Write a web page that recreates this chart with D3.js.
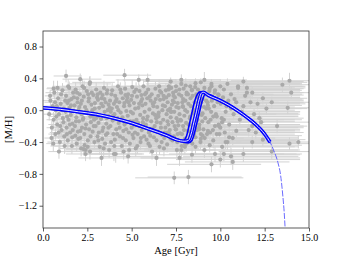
<!DOCTYPE html>
<html>
<head>
<meta charset="utf-8">
<script src="https://cdn.jsdelivr.net/npm/d3@7"></script>
<style>
  body { margin: 0; background: #fff; }
  text { font-family: "Liberation Serif", "DejaVu Serif", serif; }
</style>
</head>
<body>
<svg id="chart"></svg>
<script>
// dense cloud of stars: [age, [M/H], age error, [M/H] error]
var cloudStars = [
  [0.35,-0.05,.3,.08],[0.42,0.12,.4,.07],[0.5,-0.22,.3,.09],[0.55,0.05,.5,.06],[0.6,-0.12,.4,.1],[0.64,0.22,.5,.08],[0.7,-0.3,.4,.07],[0.72,0.0,.3,.06],[0.48,-0.35,.4,.1],[0.68,0.1,.6,.07],
  [0.8,-0.18,.5,.07],[0.85,0.15,.6,.08],[0.9,-0.05,.4,.06],[0.95,-0.4,.7,.1],[1.0,0.08,.5,.07],[1.05,-0.25,.6,.08],[1.1,0.25,.7,.09],[1.12,-0.1,.5,.06],[1.18,0.02,.6,.07],[1.2,-0.33,.8,.09],[0.88,-0.28,.5,.08],[1.02,0.2,.6,.07],[1.15,-0.15,.5,.06],[0.78,0.05,.4,.07],
  [1.28,-0.02,.6,.07],[1.3,0.18,.8,.08],[1.33,-0.22,.7,.09],[1.38,0.09,.6,.06],[1.4,-0.38,.9,.1],[1.44,-0.12,.7,.07],[1.48,0.28,.9,.08],[1.5,0.03,.6,.06],[1.53,-0.28,.8,.09],[1.57,-0.06,.7,.07],[1.6,0.14,.8,.07],[1.63,-0.45,1,.1],[1.66,-0.17,.7,.08],[1.7,0.22,.9,.08],[1.72,-0.01,.6,.06],[1.35,-0.3,.8,.08],[1.46,0.12,.7,.07],[1.68,-0.25,.8,.08],
  [1.78,0.06,.8,.07],[1.8,-0.2,.9,.08],[1.84,0.26,1,.09],[1.88,-0.09,.8,.07],[1.9,-0.42,1.1,.1],[1.93,0.15,.9,.07],[1.97,-0.27,1,.08],[2.0,0.0,.8,.06],[2.03,-0.14,.9,.07],[2.07,0.2,1,.08],[2.1,-0.35,1.1,.09],[2.13,0.08,.9,.07],[2.17,-0.05,.8,.06],[2.2,-0.22,1,.08],[2.23,0.3,1.1,.09],[1.82,-0.32,1,.09],[1.95,0.1,.9,.07],[2.15,-0.48,1.2,.1],
  [2.27,-0.1,.9,.07],[2.3,0.17,1,.08],[2.33,-0.3,1.1,.09],[2.37,0.04,.9,.06],[2.4,-0.5,1.2,.1],[2.43,-0.18,1,.08],[2.47,0.24,1.1,.08],[2.5,-0.03,.9,.06],[2.53,-0.38,1.2,.09],[2.57,0.11,1,.07],[2.6,-0.24,1.1,.08],[2.63,0.33,1.2,.09],[2.67,-0.08,.9,.07],[2.7,-0.15,1,.07],[2.73,0.07,1,.07],[2.35,-0.44,1.2,.1],[2.55,0.2,1.1,.08],[2.65,-0.52,1.3,.1],
  [2.78,0.0,1,.07],[2.8,-0.27,1.1,.08],[2.84,0.19,1.2,.08],[2.88,-0.12,1,.07],[2.9,-0.4,1.3,.1],[2.93,0.09,1.1,.07],[2.97,-0.2,1.2,.08],[3.0,0.26,1.3,.09],[3.03,-0.05,1,.06],[3.07,-0.33,1.2,.09],[3.1,0.13,1.1,.07],[3.13,-0.16,1.1,.07],[3.17,0.03,1,.06],[3.2,-0.46,1.3,.1],[3.23,0.22,1.2,.08],[2.82,-0.08,1,.07],[3.05,0.16,1.1,.07],[3.15,-0.28,1.2,.08],
  [3.27,-0.11,1.1,.07],[3.3,0.15,1.2,.08],[3.34,-0.36,1.3,.09],[3.38,0.05,1.1,.06],[3.4,-0.22,1.2,.08],[3.44,0.28,1.3,.09],[3.48,-0.02,1.1,.06],[3.5,-0.42,1.4,.1],[3.53,0.1,1.2,.07],[3.57,-0.17,1.2,.07],[3.6,0.21,1.3,.08],[3.63,-0.29,1.3,.08],[3.67,-0.07,1.1,.06],[3.7,0.07,1.2,.07],[3.73,-0.5,1.5,.1],[3.36,0.19,1.2,.08],[3.55,-0.31,1.3,.09],[3.65,0.0,1.1,.07],
  [3.78,0.12,1.2,.07],[3.8,-0.2,1.3,.08],[3.84,-0.4,1.4,.1],[3.88,0.02,1.2,.06],[3.9,0.25,1.4,.09],[3.93,-0.13,1.3,.07],[3.97,-0.3,1.4,.09],[4.0,0.08,1.2,.07],[4.03,-0.05,1.2,.06],[4.07,0.18,1.3,.08],[4.1,-0.55,1.6,.11],[4.13,-0.24,1.3,.08],[4.17,0.04,1.2,.06],[4.2,-0.1,1.3,.07],[4.23,0.3,1.4,.09],[3.82,-0.02,1.2,.07],[4.05,-0.37,1.4,.09],[4.15,0.14,1.3,.07],
  [4.27,-0.16,1.3,.07],[4.3,0.1,1.3,.07],[4.34,-0.33,1.4,.09],[4.38,-0.03,1.3,.06],[4.4,0.22,1.4,.08],[4.44,-0.45,1.5,.1],[4.48,-0.09,1.3,.07],[4.5,0.15,1.4,.07],[4.53,-0.26,1.4,.08],[4.57,0.05,1.3,.06],[4.6,-0.18,1.4,.07],[4.63,0.27,1.5,.09],[4.67,-0.38,1.5,.09],[4.7,-0.01,1.3,.06],[4.73,0.12,1.4,.07],[4.32,-0.22,1.4,.08],[4.55,-0.52,1.6,.1],[4.65,0.19,1.4,.08],
  [4.78,-0.07,1.4,.07],[4.8,0.2,1.5,.08],[4.84,-0.28,1.5,.08],[4.88,0.06,1.4,.06],[4.9,-0.42,1.6,.1],[4.93,-0.14,1.4,.07],[4.97,0.13,1.5,.07],[5.0,-0.22,1.5,.08],[5.03,0.29,1.6,.09],[5.07,-0.04,1.4,.06],[5.1,-0.35,1.6,.09],[5.13,0.09,1.5,.07],[5.17,-0.19,1.5,.07],[5.2,0.02,1.4,.06],[5.23,-0.48,1.7,.1],[4.82,0.1,1.5,.07],[5.05,-0.31,1.6,.09],[5.15,0.23,1.5,.08],
  [5.27,-0.12,1.5,.07],[5.3,0.17,1.6,.08],[5.34,-0.3,1.6,.09],[5.38,0.03,1.5,.06],[5.4,-0.2,1.6,.08],[5.44,0.24,1.7,.08],[5.48,-0.06,1.5,.06],[5.5,-0.4,1.7,.1],[5.53,0.11,1.6,.07],[5.57,-0.25,1.6,.08],[5.6,0.06,1.5,.06],[5.63,-0.15,1.6,.07],[5.67,0.3,1.7,.09],[5.7,-0.33,1.7,.09],[5.73,-0.02,1.5,.06],[5.32,-0.45,1.7,.1],[5.55,0.19,1.6,.08],[5.65,-0.1,1.6,.07],
  [5.78,0.08,1.6,.07],[5.8,-0.18,1.7,.08],[5.84,-0.37,1.7,.09],[5.88,0.15,1.6,.07],[5.9,-0.08,1.6,.06],[5.93,0.26,1.7,.09],[5.97,-0.28,1.7,.08],[6.0,0.01,1.6,.06],[6.03,-0.45,1.8,.1],[6.07,0.12,1.6,.07],[6.1,-0.14,1.7,.07],[6.13,0.2,1.7,.08],[6.17,-0.23,1.7,.08],[6.2,-0.04,1.6,.06],[6.23,0.05,1.6,.07],[5.82,0.22,1.7,.08],[6.05,-0.32,1.8,.09],[6.15,-0.52,1.8,.1],
  [6.27,0.1,1.7,.07],[6.3,-0.2,1.7,.08],[6.34,0.27,1.8,.09],[6.38,-0.1,1.7,.07],[6.4,-0.38,1.8,.09],[6.44,0.04,1.7,.06],[6.48,-0.27,1.8,.08],[6.5,0.18,1.8,.08],[6.53,-0.03,1.7,.06],[6.57,-0.46,1.9,.1],[6.6,0.13,1.7,.07],[6.63,-0.16,1.8,.07],[6.67,0.22,1.8,.08],[6.7,-0.31,1.8,.09],[6.73,0.0,1.7,.06],[6.32,-0.06,1.7,.07],[6.55,0.3,1.9,.09],[6.65,-0.22,1.8,.08],
  [6.78,-0.12,1.8,.07],[6.8,0.14,1.8,.07],[6.84,-0.35,1.9,.09],[6.88,0.05,1.8,.06],[6.9,-0.22,1.8,.08],[6.93,0.25,1.9,.09],[6.97,-0.05,1.8,.06],[7.0,-0.43,2,.1],[7.03,0.1,1.8,.07],[7.07,-0.18,1.9,.07],[7.1,0.19,1.9,.08],[7.13,-0.3,1.9,.08],[7.17,0.02,1.8,.06],[7.2,-0.09,1.8,.07],[7.23,0.28,2,.09],[6.82,-0.48,2,.1],[7.05,0.0,1.8,.06],[7.15,-0.25,1.9,.08],
  [7.27,0.07,1.9,.07],[7.3,-0.15,1.9,.07],[7.34,0.22,2,.08],[7.38,-0.33,2,.09],[7.4,-0.02,1.9,.06],[7.44,0.16,1.9,.07],[7.48,-0.24,2,.08],[7.5,0.3,2.1,.09],[7.53,-0.1,1.9,.07],[7.57,-0.4,2.1,.1],[7.6,0.09,1.9,.07],[7.63,-0.19,2,.08],[7.67,0.2,2,.08],[7.7,-0.05,1.9,.06],[7.73,-0.29,2,.08],[7.32,0.12,1.9,.07],[7.55,-0.5,2.2,.1],[7.65,0.03,1.9,.06],
  [7.78,-0.13,2,.07],[7.8,0.18,2,.08],[7.84,-0.3,2.1,.09],[7.88,0.05,2,.06],[7.9,-0.2,2,.08],[7.93,0.27,2.1,.09],[7.97,-0.07,2,.06],[8.0,-0.36,2.1,.09],[8.03,0.12,2,.07],[8.07,-0.16,2,.07],[8.1,0.22,2.1,.08],[8.13,-0.02,2,.06],[8.17,-0.26,2.1,.08],[8.2,0.08,2,.07],[7.82,-0.45,2.2,.1],[8.05,0.31,2.2,.09],
  [8.28,-0.1,2.1,.07],[8.32,0.15,2.1,.07],[8.36,-0.28,2.1,.08],[8.4,0.25,2.2,.09],[8.45,-0.04,2,.06],[8.5,-0.2,2.1,.08],[8.55,0.1,2.1,.07],[8.6,-0.34,2.2,.09],[8.65,0.2,2.1,.08],[8.7,-0.12,2.1,.07],[8.72,0.03,2,.06],[8.42,-0.42,2.2,.1],[8.58,0.29,2.2,.09],[8.68,-0.25,2.1,.08],
  [8.78,0.06,2.1,.07],[8.82,-0.18,2.1,.08],[8.86,0.22,2.2,.08],[8.9,-0.3,2.2,.09],[8.95,-0.06,2.1,.06],[9.0,0.14,2.1,.07],[9.05,-0.24,2.2,.08],[9.1,0.28,2.3,.09],[9.15,-0.1,2.1,.07],[9.2,0.02,2.1,.06],[8.88,-0.4,2.3,.1],[9.12,-0.35,2.2,.09],
  [9.28,0.1,2.2,.07],[9.32,-0.15,2.2,.07],[9.38,0.24,2.3,.08],[9.42,-0.28,2.3,.09],[9.48,-0.02,2.2,.06],[9.55,0.17,2.2,.08],[9.6,-0.38,2.3,.1],[9.65,0.05,2.2,.06],[9.7,-0.2,2.3,.08],[9.5,0.3,2.3,.09],
  [9.8,-0.08,2.3,.07],[9.88,0.2,2.3,.08],[9.95,-0.3,2.4,.09],[10.02,0.08,2.3,.07],[10.1,-0.15,2.4,.07],[10.2,0.26,2.4,.09],[10.3,-0.02,2.3,.06],[10.4,-0.4,2.5,.1],[10.45,0.12,2.3,.07]
];

// more cloud stars filling the gaps: [age, [M/H], age error, [M/H] error]
var cloudExtra = [
  [0.4,0.18,.3,.07],[0.58,-0.42,.4,.1],[0.75,-0.08,.4,.06],[0.82,0.28,.6,.09],[0.97,-0.2,.5,.07],[1.08,0.0,.5,.06],[1.22,-0.45,.8,.1],[1.25,0.12,.6,.07],
  [1.36,-0.08,.6,.06],[1.42,0.3,.9,.09],[1.52,-0.18,.7,.07],[1.58,0.06,.7,.06],[1.65,-0.34,.9,.09],[1.74,0.16,.8,.07],[1.86,-0.14,.8,.07],[1.92,0.22,.9,.08],
  [1.99,-0.36,1,.09],[2.05,0.04,.9,.06],[2.11,-0.26,1,.08],[2.19,0.12,.9,.07],[2.25,-0.12,.9,.07],[2.32,0.28,1.1,.09],[2.39,-0.23,1,.08],[2.45,0.0,.9,.06],
  [2.52,-0.46,1.2,.1],[2.59,0.15,1,.07],[2.68,-0.33,1.1,.09],[2.75,0.22,1.1,.08],[2.86,-0.2,1.1,.08],[2.92,0.02,1,.06],[2.99,-0.1,1,.07],[3.08,0.2,1.2,.08],
  [3.12,-0.38,1.3,.09],[3.21,-0.08,1.1,.07],[3.29,0.08,1.1,.07],[3.35,-0.26,1.2,.08],[3.42,-0.48,1.4,.1],[3.46,0.14,1.2,.07],[3.59,-0.1,1.2,.07],[3.62,0.25,1.3,.09],
  [3.69,-0.22,1.2,.08],[3.76,0.03,1.2,.06],[3.86,0.2,1.3,.08],[3.95,-0.07,1.2,.07],[4.02,-0.45,1.5,.1],[4.09,0.11,1.3,.07],[4.18,-0.3,1.4,.09],[4.25,0.0,1.3,.06],
  [4.36,0.26,1.4,.09],[4.42,-0.12,1.3,.07],[4.51,-0.35,1.5,.09],[4.59,0.09,1.3,.07],[4.69,-0.24,1.4,.08],[4.76,0.16,1.4,.08],[4.86,-0.5,1.6,.1],[4.95,-0.02,1.4,.06],
  [5.02,0.18,1.5,.08],[5.09,-0.14,1.5,.07],[5.19,-0.28,1.5,.08],[5.25,0.26,1.6,.09],[5.36,-0.16,1.5,.07],[5.42,0.08,1.5,.07],[5.52,-0.35,1.6,.09],[5.59,0.14,1.6,.07],
  [5.69,-0.2,1.6,.08],[5.75,0.2,1.6,.08],[5.86,-0.12,1.6,.07],[5.95,-0.42,1.8,.1],[6.02,0.17,1.6,.08],[6.09,-0.24,1.7,.08],[6.19,0.08,1.6,.07],[6.25,-0.34,1.8,.09],
  [6.36,0.14,1.7,.07],[6.42,-0.15,1.7,.07],[6.51,-0.08,1.7,.07],[6.59,0.24,1.8,.08],[6.69,-0.4,1.9,.1],[6.76,0.06,1.7,.06],[6.86,-0.28,1.8,.08],[6.95,0.16,1.8,.07],
  [7.02,-0.14,1.8,.07],[7.09,0.26,1.9,.09],[7.19,-0.36,1.9,.09],[7.25,-0.02,1.8,.06],[7.36,0.18,1.9,.08],[7.42,-0.2,1.9,.08],[7.52,0.04,1.9,.06],[7.59,-0.3,2,.09],
  [7.69,0.26,2,.09],[7.75,-0.12,1.9,.07],[7.86,0.1,2,.07],[7.95,-0.25,2,.08],[8.02,0.0,2,.06],[8.09,-0.42,2.2,.1],[8.18,0.2,2.1,.08],[8.26,-0.18,2.1,.07],
  [8.34,0.05,2,.07],[8.44,0.18,2.1,.08],[8.52,-0.3,2.2,.09],[8.62,-0.06,2.1,.07],[8.74,0.26,2.2,.08],[8.8,-0.24,2.1,.08],[8.92,0.1,2.1,.07],[8.98,-0.14,2.1,.07],
  [9.08,0.04,2.1,.06],[9.18,0.2,2.2,.08],[9.25,-0.3,2.3,.09],[9.35,0.02,2.2,.06],[9.45,-0.12,2.2,.07],[9.52,0.12,2.2,.07],[9.58,-0.25,2.3,.08],[9.68,0.22,2.3,.08],
  [9.75,-0.05,2.2,.06],[9.85,0.1,2.3,.07],[9.92,-0.2,2.3,.08],[10.0,0.3,2.4,.09],[10.08,-0.1,2.3,.07],[10.15,0.16,2.3,.07],[10.25,-0.28,2.4,.09],[10.35,0.05,2.3,.06],
  [10.5,-0.18,2.4,.08],[10.6,0.2,2.4,.08],[10.75,-0.05,2.4,.07],[10.9,0.1,2.4,.07],[11.1,-0.12,2.5,.08],[11.3,0.05,2.5,.07],[11.6,-0.25,2.6,.08],[12.1,0.08,2.7,.07],
  [11.9,-0.05,2.6,.07],[12.3,-0.15,2.7,.08],[10.7,-0.35,2.4,.09],[11.4,0.18,2.5,.08]
];

// stars with long, asymmetric age errors: [age, [M/H], lower err, upper err, [M/H] err]
var longBarStars = [
  [7.2,0.36,1.5,7.5,.05],[7.8,0.33,2,6.8,.06],[8.3,0.3,2.2,6.5,.07],[8.9,0.35,1.8,6,.05],[9.4,0.27,2,5.3,.06],
  [7.5,0.24,1.7,7,.07],[8.1,0.2,2,6.5,.06],[8.7,0.16,2.3,5.8,.07],[9.2,0.12,2,5.5,.06],[9.9,0.19,2.5,4.8,.07],
  [10.4,0.08,2.4,4.1,.06],[7.9,0.04,2.2,6.3,.06],[8.5,0.0,2,5.7,.07],[9.0,-0.04,2.4,5.4,.06],[9.6,-0.08,2.2,4.6,.07],
  [10.2,-0.12,2.6,4,.08],[7.6,-0.14,2,6.6,.07],[8.2,-0.18,2.1,6,.07],[8.8,-0.22,2.3,5.6,.08],[9.3,-0.26,2.2,4.9,.08],
  [9.8,-0.3,2.5,4.4,.08],[10.5,-0.34,2.6,3.9,.09],[7.3,-0.38,1.9,7,.09],[8.0,-0.42,2.3,6.4,.09],[8.6,-0.46,2.4,5.6,.1],
  [9.1,-0.5,2.5,5.3,.1],[9.7,-0.55,2.6,4.9,.1],[10.6,-0.58,2.7,3.8,.11],[7.7,-0.6,2.2,6.8,.1],[11.0,0.3,2.5,3.6,.07],
  [11.5,0.22,2.8,3.2,.08],[10.8,0.14,2.6,3.9,.07],[11.2,-0.02,2.7,3.3,.08],[11.8,-0.2,3,2.9,.08],[12.2,-0.1,3.2,2.5,.09],
  [8.4,0.26,2.2,6.1,.06],[9.5,0.33,2,5,.06],[7.4,0.1,1.9,7.1,.06],[8.3,-0.08,2.1,6.1,.07],[9.9,-0.18,2.4,4.6,.08],
  [7.0,-0.28,1.8,7.5,.08],[8.9,-0.36,2.4,5.5,.09],[10.1,-0.46,2.5,4.3,.09],[10.9,-0.26,2.8,3.6,.08],[6.8,0.18,1.6,7.7,.06],
  [6.5,-0.06,1.6,7.9,.07],[7.1,0.3,1.6,7.6,.06],[8.6,0.34,2,6,.06],[9.7,0.25,2.3,4.9,.07],[7.9,0.14,2,6.7,.06],
  [9.3,0.06,2.2,5.3,.07],[10.6,0.02,2.6,4,.07],[7.2,-0.02,1.8,7.3,.07],[8.7,-0.12,2.2,5.9,.07],[10.0,-0.22,2.5,4.7,.08],
  [7.5,-0.24,1.9,7,.08],[9.0,-0.32,2.3,5.6,.08],[10.3,-0.4,2.6,4.2,.09],[7.8,-0.5,2.1,6.7,.09],[9.4,-0.44,2.4,5.2,.09],
  [8.4,-0.56,2.3,6.1,.1],[10.0,-0.62,2.5,4.5,.1],[11.3,0.36,2.4,3.3,.06],[11.7,0.1,2.8,3,.07]
];

// sparse stars around the edges of the cloud: [age, [M/H], lower err, upper err, [M/H] err]
var sparseStars = [
  [1.3,0.43,.7,.9,.08],[2.1,0.39,1,1.2,.07],[2.65,0.35,1,1.4,.08],[4.6,0.44,1.2,1.5,.08],[5.4,0.38,1.3,1.7,.07],
  [5.9,0.38,1.4,1.6,.08],[0.6,0.27,.4,.6,.1],[7.8,0.38,1.8,2.2,.07],[9.1,0.38,2,2.4,.1],[10.4,0.33,2.2,3,.07],
  [11.0,0.28,2.4,3.2,.08],[11.5,0.28,2.5,3.3,.07],[11.8,0.22,2.6,2.8,.08],[12.4,0.15,2.8,2.5,.08],[12.9,0.1,3,2.1,.07],
  [13.5,0.32,3.2,1.5,.09],[13.9,0.37,3.3,1.1,.1],[14.0,0.22,3.3,1,.08],[13.8,0.03,3.2,1.2,.08],[12.9,-0.52,3,2.1,.09],
  [13.9,-0.42,3.2,1.1,.08],[14.4,-0.4,3.5,.6,.08],[11.8,-0.4,2.8,2.6,.08],[11.3,-0.55,2.8,3,.1],[10.7,-0.65,2.7,3.2,.1],
  [9.5,-0.68,2.5,2.8,.1],[10.2,-0.55,2.6,3.4,.09],[8.0,-0.46,2.2,2.6,.09],[7.4,-0.85,2.2,3.9,.08],[8.2,-0.84,2.3,3,.09],
  [12.6,0.02,3,2.3,.08],[13.2,-0.2,3.1,1.7,.09],[12.0,-0.28,2.9,2.7,.08],[2.4,-0.55,1.1,1.3,.09],[2.3,-0.49,1,1.2,.08],
  [4.0,-0.55,1.4,1.6,.09],[3.3,-0.6,1.3,1.5,.1],[4.8,-0.58,1.5,1.7,.09],[0.9,-0.52,.6,.8,.09],[6.4,-0.6,1.7,1.9,.1],
  [12.4,-0.37,2.9,2.4,.08]
];

// chemical evolution model tracks: [age, [M/H]]
var trackMid = [
  [0,0.03],[1,0.01],[2,-0.02],[3,-0.05],[4,-0.10],[5,-0.16],[6,-0.24],[7,-0.32],[7.5,-0.37],[8.0,-0.39],
  [8.2,-0.38],[8.35,-0.30],[8.5,-0.16],[8.65,-0.02],[8.8,0.13],[8.95,0.22],[9.05,0.225],[9.3,0.19],[10.0,0.12],
  [10.5,0.06],[11.0,-0.01],[11.5,-0.09],[12.0,-0.18],[12.5,-0.30],[12.8,-0.40],[13.0,-0.50],[13.25,-0.66],
  [13.4,-0.82],[13.53,-1.09],[13.6,-1.28],[13.65,-1.47]
];
var trackEarly = [
  [0,0.04],[2,-0.01],[4,-0.09],[6,-0.225],[7,-0.305],[7.7,-0.37],[7.9,-0.38],[8.1,-0.32],[8.25,-0.18],
  [8.4,-0.03],[8.55,0.11],[8.7,0.2],[8.85,0.23],[9.1,0.21],[10,0.135],[11,0.0],[12,-0.17],[12.5,-0.29],
  [12.8,-0.39]
];
var trackLate = [
  [0,0.02],[2,-0.03],[4,-0.11],[6,-0.25],[7,-0.33],[7.7,-0.39],[8.2,-0.41],[8.4,-0.38],[8.55,-0.28],
  [8.7,-0.14],[8.85,0.0],[9.0,0.13],[9.15,0.2],[9.3,0.2],[10,0.11],[11,-0.02],[12,-0.19],[12.5,-0.31],
  [12.8,-0.41]
];

var xTicks = [0, 2.5, 5, 7.5, 10, 12.5, 15];
var yTicks = [0.8, 0.4, 0.0, -0.4, -0.8, -1.2];

var W = 344, H = 258;
var margin = {top: 31, right: 35, bottom: 30, left: 43},
  width = W - margin.left - margin.right,
  height = H - margin.top - margin.bottom;

var svg = d3.select("#chart").attr("width", W).attr("height", H);
svg.append("rect").attr("width", W).attr("height", H).attr("fill", "#fff");

var g = svg.append("g").attr("transform", "translate(" + margin.left + "," + margin.top + ")");

var x = d3.scaleLinear().domain([0, 15]).range([0, width]);
var y = d3.scaleLinear().domain([-1.48, 0.995]).range([height, 0]);

g.append("clipPath").attr("id", "clip")
  .append("rect").attr("width", width).attr("height", height);

var plot = g.append("g").attr("clip-path", "url(#clip)");

// turn every star into {age, mh, lo, hi, e}
var symm = function(d) { return {age: d[0], mh: d[1], lo: d[2], hi: d[2], e: d[3]}; };
var asym = function(d) { return {age: d[0], mh: d[1], lo: d[2], hi: d[3], e: d[4]}; };
var stars = cloudStars.map(symm)
  .concat(cloudExtra.map(symm))
  .concat(longBarStars.map(asym))
  .concat(sparseStars.map(asym));

var barColor = "#d3d3d3", dotColor = "#a9a9a9";

// error bars
plot.append("g").selectAll("line").data(stars).enter().append("line")
  .attr("x1", function(d) { return x(d.age - d.lo); })
  .attr("x2", function(d) { return x(d.age + d.hi); })
  .attr("y1", function(d) { return y(d.mh); })
  .attr("y2", function(d) { return y(d.mh); })
  .attr("stroke", barColor).attr("stroke-width", 1);

plot.append("g").selectAll("line").data(stars).enter().append("line")
  .attr("x1", function(d) { return x(d.age); })
  .attr("x2", function(d) { return x(d.age); })
  .attr("y1", function(d) { return y(d.mh - d.e); })
  .attr("y2", function(d) { return y(d.mh + d.e); })
  .attr("stroke", barColor).attr("stroke-width", 1);

// markers
plot.append("g").selectAll("circle").data(stars).enter().append("circle")
  .attr("cx", function(d) { return x(d.age); })
  .attr("cy", function(d) { return y(d.mh); })
  .attr("r", 2.1)
  .attr("fill", dotColor);

// model band
var line = d3.line()
  .x(function(d) { return x(d[0]); })
  .y(function(d) { return y(d[1]); })
  .curve(d3.curveMonotoneX);

var bandPart = function(d) { return d[0] <= 12.85; };
var tailPart = function(d) { return d[0] >= 12.5; };

[trackEarly, trackLate].forEach(function(t) {
  plot.append("path").datum(t.filter(bandPart))
    .attr("d", line).attr("fill", "none")
    .attr("stroke", "#0000ff").attr("stroke-width", 1.6);
});
plot.append("path").datum(trackMid.filter(bandPart))
  .attr("d", line).attr("fill", "none")
  .attr("stroke", "#0000ff").attr("stroke-width", 3.6);
plot.append("path").datum(trackMid.filter(bandPart))
  .attr("d", line).attr("fill", "none")
  .attr("stroke", "#fff").attr("stroke-width", 0.9);
plot.append("path").datum(trackMid.filter(tailPart))
  .attr("d", line).attr("fill", "none")
  .attr("stroke", "#5a5aff").attr("stroke-width", 0.9)
  .attr("stroke-dasharray", "6,1.5");

// axes
var xAxis = g.append("g")
  .attr("transform", "translate(0," + height + ")")
  .call(d3.axisBottom(x).tickValues(xTicks).tickSize(3.5).tickPadding(2.5)
    .tickFormat(d3.format(".1f")));
var yAxis = g.append("g")
  .call(d3.axisLeft(y).tickValues(yTicks).tickSize(3.5).tickPadding(2.5)
    .tickFormat(function(d) { return d3.format(".1f")(d).replace("-", "\u2212"); }));

[xAxis, yAxis].forEach(function(a) {
  a.select(".domain").remove();
  a.selectAll("line").attr("stroke", "#333").attr("stroke-width", 0.8);
  a.selectAll("text").attr("fill", "#000").style("font-size", "10px")
    .style("font-family", "'Liberation Serif', serif");
});

// frame
g.append("rect").attr("width", width).attr("height", height)
  .attr("fill", "none").attr("stroke", "#333").attr("stroke-width", 0.8);

g.append("text")
  .attr("x", width / 2).attr("y", height + 26)
  .attr("text-anchor", "middle").style("font-size", "10.5px")
  .text("Age [Gyr]");

g.append("text")
  .attr("transform", "translate(" + (-31) + "," + (height / 2) + ") rotate(-90)")
  .attr("text-anchor", "middle").style("font-size", "10.5px")
  .text("[M/H]");
</script>
</body>
</html>
